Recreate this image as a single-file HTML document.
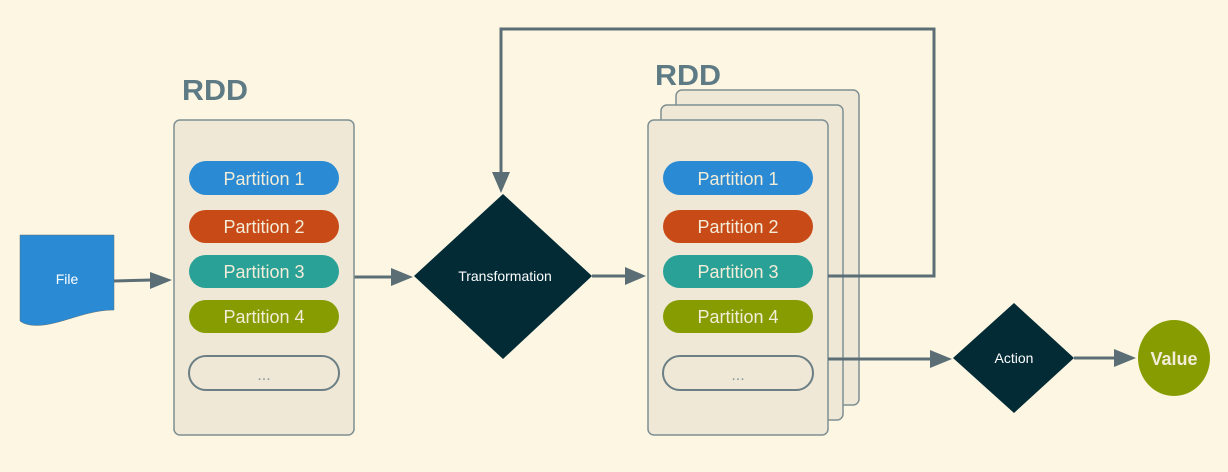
<!DOCTYPE html>
<html><head><style>
html,body{margin:0;padding:0;background:#fdf6e3;}
svg{display:block;}
text{font-family:"Liberation Sans",sans-serif;}
</style></head><body>
<svg width="1228" height="472" viewBox="0 0 1228 472" xmlns="http://www.w3.org/2000/svg">
<rect width="1228" height="472" fill="#fdf6e3"/>
<g stroke="#5b6e75" stroke-width="3" fill="none">
<line x1="114" y1="281" x2="152" y2="280"/>
<line x1="354" y1="277" x2="392" y2="277"/>
<line x1="592" y1="276" x2="626" y2="276"/>
<polyline points="828,276 934,276 934,29 501,29 501,175"/>
<line x1="828" y1="359" x2="932" y2="359"/>
<line x1="1074" y1="358" x2="1116" y2="358"/>
</g>
<g fill="#5b6e75">
<polygon points="150,272 172,280 150,289"/>
<polygon points="391,268 413,277 391,286"/>
<polygon points="625,267 646,276 625,285"/>
<polygon points="492,172 510,172 501,193"/>
<polygon points="930,350 952,359 930,368"/>
<polygon points="1114,349 1136,358 1114,367"/>
</g>
<path d="M20,235 H114 V310 C90,310 70,320 50,324 C35,327 25,325 20,321 Z" fill="#2a8bd4" stroke="#5b6e75" stroke-width="0.5"/>
<text x="67" y="284" font-size="14" fill="#fff" text-anchor="middle">File</text>
<text x="182" y="100" font-size="29" font-weight="bold" fill="#5e7a84" textLength="66" lengthAdjust="spacingAndGlyphs">RDD</text>
<rect x="174" y="120" width="180" height="315" rx="6" fill="#efe8d6" stroke="#7f8f92" stroke-width="1.5"/>
<g font-size="18" fill="#f3ecd8" text-anchor="middle">
<rect x="189" y="161" width="150" height="34" rx="17" fill="#2a8bd4"/><text x="264" y="185">Partition 1</text>
<rect x="189" y="210" width="150" height="33" rx="16.5" fill="#c84b17"/><text x="264" y="233">Partition 2</text>
<rect x="189" y="255" width="150" height="33" rx="16.5" fill="#2aa197"/><text x="264" y="278">Partition 3</text>
<rect x="189" y="300" width="150" height="33" rx="16.5" fill="#869c00"/><text x="264" y="323">Partition 4</text>
</g>
<rect x="189" y="356" width="150" height="34" rx="17" fill="#efe8d6" stroke="#6c7f85" stroke-width="2"/>
<text x="264" y="380" font-size="16" fill="#8a9a9e" text-anchor="middle">...</text>
<polygon points="503,194 592,276 503,359 414,276" fill="#022b36"/>
<text x="505" y="281" font-size="14" fill="#fff" text-anchor="middle">Transformation</text>
<text x="655" y="85" font-size="29" font-weight="bold" fill="#5e7a84" textLength="66" lengthAdjust="spacingAndGlyphs">RDD</text>
<rect x="676" y="90" width="183" height="315" rx="6" fill="#efe8d6" stroke="#7f8f92" stroke-width="1.5"/>
<rect x="661" y="105" width="182" height="315" rx="6" fill="#efe8d6" stroke="#7f8f92" stroke-width="1.5"/>
<rect x="648" y="120" width="180" height="315" rx="6" fill="#efe8d6" stroke="#7f8f92" stroke-width="1.5"/>
<g font-size="18" fill="#f3ecd8" text-anchor="middle">
<rect x="663" y="161" width="150" height="34" rx="17" fill="#2a8bd4"/><text x="738" y="185">Partition 1</text>
<rect x="663" y="210" width="150" height="33" rx="16.5" fill="#c84b17"/><text x="738" y="233">Partition 2</text>
<rect x="663" y="255" width="150" height="33" rx="16.5" fill="#2aa197"/><text x="738" y="278">Partition 3</text>
<rect x="663" y="300" width="150" height="33" rx="16.5" fill="#869c00"/><text x="738" y="323">Partition 4</text>
</g>
<rect x="663" y="356" width="150" height="34" rx="17" fill="#efe8d6" stroke="#6c7f85" stroke-width="2"/>
<text x="738" y="380" font-size="16" fill="#8a9a9e" text-anchor="middle">...</text>
<line x1="828" y1="276" x2="860" y2="276" stroke="#5b6e75" stroke-width="3"/>
<line x1="828" y1="359" x2="860" y2="359" stroke="#5b6e75" stroke-width="3"/>
<polygon points="1014,303 1074,358 1014,413 953,358" fill="#022b36"/>
<text x="1014" y="363" font-size="14" fill="#fff" text-anchor="middle">Action</text>
<ellipse cx="1174" cy="358" rx="36" ry="38" fill="#869c00"/>
<text x="1174" y="365" font-size="18" font-weight="bold" fill="#f3ecd8" text-anchor="middle">Value</text>
</svg>
</body></html>
